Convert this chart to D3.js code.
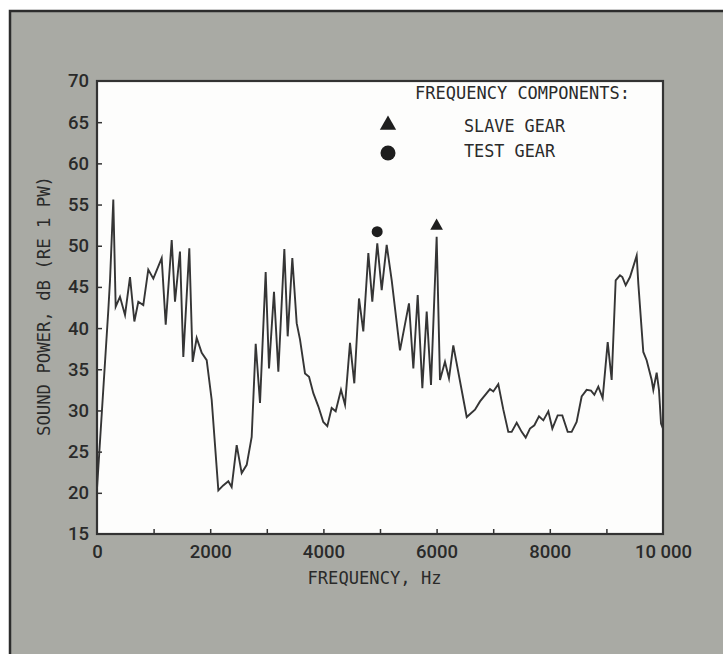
<!DOCTYPE html>
<html><head><meta charset="utf-8">
<script src="https://cdn.jsdelivr.net/npm/d3@7"></script>
<style>
html,body{margin:0;padding:0;background:#fff;}
svg{display:block;}
</style></head>
<body>
<svg id="chart" width="723" height="654"></svg>
<script>
// ---- data ----
const frequencyHz = [0, 200, 230, 288, 330, 406, 495, 583, 660, 730,
  818, 906, 995, 1143, 1214, 1320, 1378, 1466, 1525, 1631,
  1690, 1761, 1850, 1938, 2026, 2144, 2230, 2320, 2379, 2468,
  2556, 2645, 2733, 2804, 2880, 2980, 3039, 3127, 3204, 3310,
  3369, 3451, 3528, 3587, 3675, 3746, 3822, 3910, 3998, 4069,
  4146, 4217, 4311, 4382, 4470, 4546, 4629, 4705, 4794, 4864,
  4952, 5030, 5118, 5207, 5353, 5512, 5589, 5666, 5748, 5825,
  5901, 6001, 6060, 6148, 6219, 6295, 6532, 6678, 6767, 6943,
  7002, 7090, 7179, 7267, 7326, 7415, 7503, 7574, 7650, 7727,
  7809, 7886, 7974, 8045, 8139, 8221, 8316, 8386, 8474, 8563,
  8651, 8728, 8787, 8857, 8934, 9023, 9093, 9164, 9240, 9282,
  9341, 9417, 9535, 9564, 9652, 9711, 9800, 9829, 9888, 9929,
  9965, 10000];
const soundPowerDb = [20.5, 42.2, 45.8, 55.6, 42.6, 43.8, 41.6, 46.2, 40.8, 43.2,
  42.8, 47.1, 46.0, 48.5, 40.4, 50.7, 43.2, 49.3, 36.5, 49.7,
  35.9, 38.8, 37.0, 36.1, 31.3, 20.3, 20.9, 21.4, 20.7, 25.8,
  22.4, 23.4, 26.8, 38.1, 30.9, 46.8, 35.1, 44.4, 34.7, 49.6,
  39.0, 48.5, 40.6, 38.6, 34.5, 34.1, 32.1, 30.5, 28.6, 28.1,
  30.3, 29.9, 32.5, 30.7, 38.2, 33.3, 43.6, 39.6, 49.1, 43.2,
  50.3, 44.6, 50.1, 45.8, 37.3, 43.0, 35.1, 44.0, 32.7, 42.0,
  33.1, 51.1, 33.7, 35.9, 33.9, 37.9, 29.2, 30.1, 31.1, 32.6,
  32.3, 33.2, 30.1, 27.4, 27.4, 28.5, 27.4, 26.7, 27.8, 28.2,
  29.3, 28.8, 29.9, 27.8, 29.4, 29.4, 27.4, 27.4, 28.6, 31.7,
  32.5, 32.4, 31.9, 32.9, 31.5, 38.3, 33.7, 45.8, 46.4, 46.2,
  45.2, 46.2, 48.8, 45.4, 37.1, 36.1, 33.7, 32.5, 34.6, 32.5,
  28.4, 27.8];

const componentNames = ["SLAVE GEAR", "TEST GEAR"];
const componentFreq = [6000, 4950];
const componentDb = [52.4, 51.7];

const xTicks = [0, 1000, 2000, 3000, 4000, 5000, 6000, 7000, 8000, 9000, 10000];
const xTickLabels = ["0", "", "2000", "", "4000", "", "6000", "", "8000", "", "10 000"];
const yTicks = [15, 20, 25, 30, 35, 40, 45, 50, 55, 60, 65, 70];

const xTitle = "FREQUENCY, Hz";
const yTitle = "SOUND POWER, dB (RE 1 PW)";
const legendTitle = "FREQUENCY COMPONENTS:";

// ---- layout ----
const svg = d3.select("#chart");
const plot = {left: 97, right: 663, top: 81, bottom: 534};
const ink = "#333333";
const mono = "'DejaVu Sans Mono', 'Liberation Mono', monospace";
const sans = "Roboto, 'Liberation Sans', sans-serif";

// grey card
svg.append("rect").attr("x", 10).attr("y", 11).attr("width", 740).attr("height", 680)
  .attr("fill", "#a9aaa4").attr("stroke", "#2c2c2c").attr("stroke-width", 2.5);

// white plot field
svg.append("rect").attr("x", plot.left).attr("y", plot.top)
  .attr("width", plot.right - plot.left).attr("height", plot.bottom - plot.top)
  .attr("fill", "#fdfdfc");

const x = d3.scaleLinear().domain([0, 10000]).range([plot.left, plot.right]);
const y = d3.scaleLinear().domain([15, 70]).range([plot.bottom, plot.top]);

// axes
const xAxis = d3.axisBottom(x).tickValues(xTicks)
  .tickFormat((d, i) => xTickLabels[i]).tickSizeInner(-5).tickSizeOuter(0).tickPadding(11);
const gx = svg.append("g").attr("transform", `translate(0,${plot.bottom})`).call(xAxis);

const yAxis = d3.axisLeft(y).tickValues(yTicks)
  .tickFormat(d3.format("d")).tickSizeInner(-5).tickSizeOuter(0).tickPadding(8);
const gy = svg.append("g").attr("transform", `translate(${plot.left},0)`).call(yAxis);

[gx, gy].forEach(g => {
  g.select(".domain").remove();
  g.selectAll(".tick line").attr("stroke", ink).attr("stroke-width", 1.5);
  g.selectAll(".tick text").attr("fill", "#2a2a2a")
    .style("font-family", sans).style("font-size", "18.5px").style("font-weight", 500);
});
gy.selectAll(".tick line").filter(d => d === 15 || d === 70).remove();
gx.selectAll(".tick line").filter(d => d === 0 || d === 10000).remove();

// plot frame
svg.append("rect").attr("x", plot.left).attr("y", plot.top)
  .attr("width", plot.right - plot.left).attr("height", plot.bottom - plot.top)
  .attr("fill", "none").attr("stroke", ink).attr("stroke-width", 2.2);

// data line
const data = frequencyHz.map((f, i) => [f, soundPowerDb[i]]);
svg.append("path").datum(data)
  .attr("fill", "none").attr("stroke", "#353535").attr("stroke-width", 1.9)
  .attr("stroke-linejoin", "miter").attr("stroke-miterlimit", 6)
  .attr("d", d3.line().x(d => x(d[0])).y(d => y(d[1])));

// component markers on the spectrum
const tri = d3.symbol().type(d3.symbolTriangle);
svg.append("path")
  .attr("d", tri.size(70)())
  .attr("transform", `translate(${x(componentFreq[0])},${y(componentDb[0])})`)
  .attr("fill", "#1e1e1e");
svg.append("circle")
  .attr("cx", x(componentFreq[1])).attr("cy", y(componentDb[1])).attr("r", 5.5)
  .attr("fill", "#1e1e1e");

// legend
function monoText(str, xx, yy, len) {
  return svg.append("text").attr("x", xx).attr("y", yy).text(str)
    .attr("fill", "#2a2a2a").style("font-family", mono).style("font-size", "17.5px")
    .attr("textLength", len).attr("lengthAdjust", "spacingAndGlyphs");
}
monoText(legendTitle, 415, 99, 215);
svg.append("path").attr("d", tri.size(115)())
  .attr("transform", "translate(388,125)").attr("fill", "#1e1e1e");
monoText(componentNames[0], 464, 132, 101);
svg.append("circle").attr("cx", 388).attr("cy", 153).attr("r", 7.5).attr("fill", "#1e1e1e");
monoText(componentNames[1], 464, 157, 91);

// axis titles
monoText(xTitle, 307.5, 584, 134);
svg.append("text").text(yTitle)
  .attr("transform", "translate(50,306) rotate(-90)")
  .attr("text-anchor", "middle")
  .attr("fill", "#2a2a2a").style("font-family", mono).style("font-size", "17.5px")
  .attr("textLength", 260).attr("lengthAdjust", "spacingAndGlyphs");
</script>
</body></html>
